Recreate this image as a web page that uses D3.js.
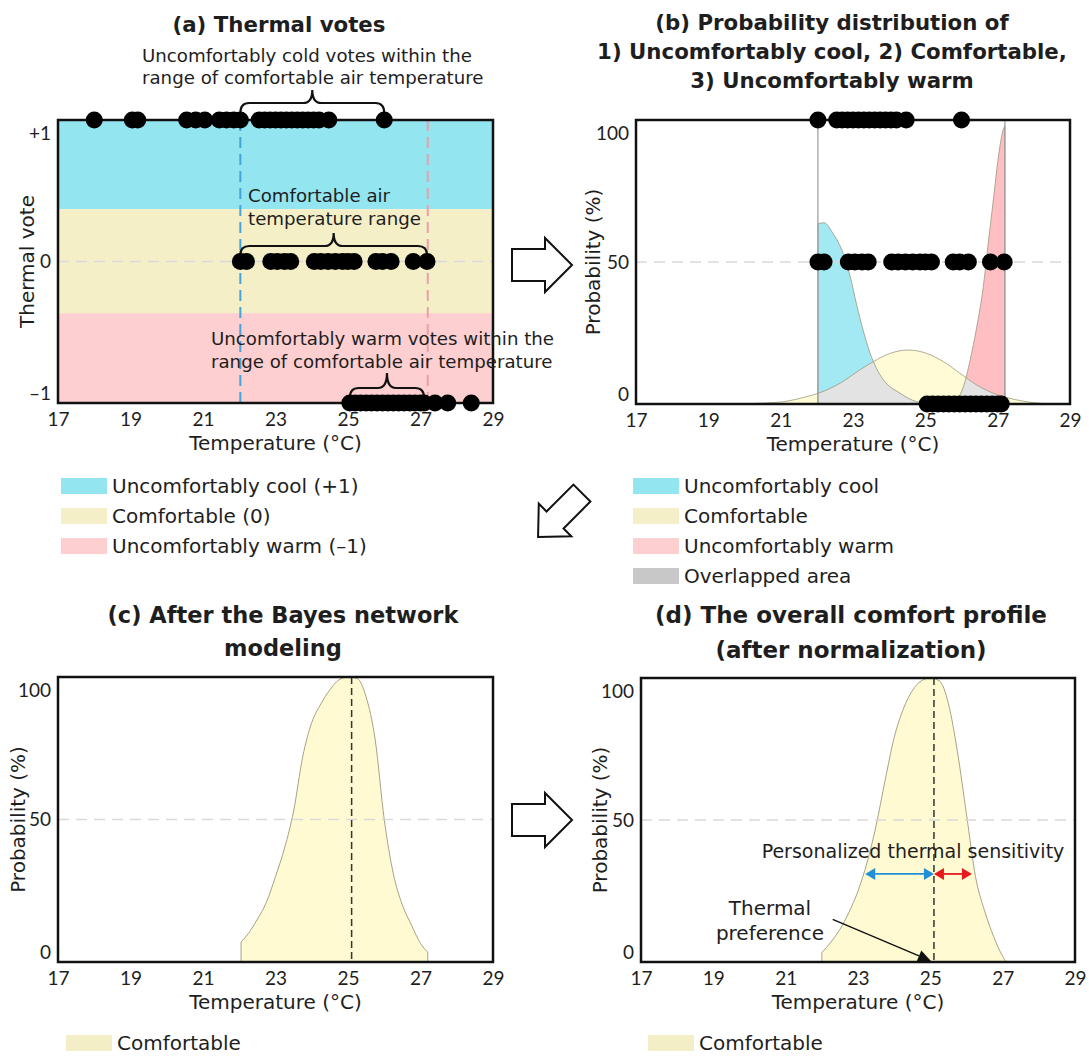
<!DOCTYPE html>
<html>
<head>
<meta charset="utf-8">
<script src="https://cdn.jsdelivr.net/npm/d3@7"></script>
<style>
  body { margin: 0; background: #fff; }
  svg text { font-family: "DejaVu Sans", Lato, sans-serif; fill: #1e1e1e; }
  svg .tick text { font-family: Lato, "DejaVu Sans", sans-serif; }
</style>
</head>
<body>
<svg id="fig" width="1089" height="1057"></svg>
<script>
// ---------------- data ----------------
const tempTicks = [17, 19, 21, 23, 25, 27, 29];
const voteTicks = [1, 0, -1];
const voteTickLabels = ["+1", "0", "\u20131"];
const probTicks = [0, 50, 100];
const probTickLabels = ["0", "50", "100"];

// thermal votes (air temperature, °C) per vote level
const coolVotes = [18.0, 19.05, 19.2, 20.55, 20.8, 21.05, 21.45, 21.65, 21.85, 22.03, 22.55, 22.7, 22.85,
                   23.0, 23.15, 23.3, 23.45, 23.6, 23.75, 23.9, 24.05, 24.2, 24.47, 26.0];
const neutralVotes = [22.03, 22.2, 22.87, 23.05, 23.25, 23.42, 24.07, 24.25, 24.45, 24.65, 24.85, 25.0,
                      25.17, 25.77, 25.95, 26.19, 26.8, 27.18];
const warmVotes = [25.05, 25.2, 25.35, 25.5, 25.65, 25.8, 25.95, 26.1, 26.25, 26.4, 26.55, 26.7, 26.85,
                   27.0, 27.1, 27.4, 27.75, 28.4];

// comfortable air temperature range (°C)
const comfortRange = [22.03, 27.2];
// thermal-vote limits separating the three sensation bands
const bandLimits = [0.37, -0.365];

// probability distributions (%)
const comfTemps = [19.7, 20.5, 21.07, 21.72, 22.09, 22.64, 23.19, 23.56, 24.02, 24.53, 25.04, 25.5, 25.96,
                   26.42, 26.88, 27.34, 27.98, 28.44];
const comfProb  = [0, 0.3, 0.8, 2.6, 4, 7.3, 12, 14.9, 17.8, 19, 17.8, 14.9, 10.8, 6.7, 3.8, 2, 0.5, 0];
const coolTemps = [22.03, 22.2, 22.45, 22.73, 22.92, 23.1, 23.28, 23.47, 23.65, 23.84, 24.3, 24.76, 25.2];
const coolProb  = [63.5, 63.8, 60, 53, 45, 35, 26, 18, 12.5, 8.5, 3.8, 0.8, 0];
const warmTemps = [25.7, 25.9, 26.05, 26.24, 26.42, 26.6, 26.74, 26.88, 27.02, 27.15, 27.2];
const warmProb  = [0, 2, 6, 15.5, 27, 41, 56.6, 71.8, 87, 96.5, 98];

// after Bayes network modelling
const bayesTemps = [22.05, 22.25, 22.5, 22.75, 23.0, 23.25, 23.5, 23.75, 24.0, 24.25, 24.5, 24.75, 25.0,
                    25.25, 25.5, 25.75, 26.0, 26.25, 26.5, 26.75, 27.0, 27.2];
const bayesProb  = [7, 10, 15, 21, 30, 40, 53, 72, 84, 90.5, 95.5, 99, 100, 99.5, 93, 78, 50, 31, 20, 13,
                    6.5, 3.5];

// overall comfort profile after normalisation
const normTemps = [22.0, 22.25, 22.5, 22.75, 23.0, 23.25, 23.5, 23.75, 24.0, 24.25, 24.5, 24.75, 25.0,
                   25.25, 25.5, 25.75, 26.0, 26.25, 26.5, 26.75, 27.0, 27.1];
const normProb  = [3.3, 7, 11.5, 17.5, 25, 35, 48, 64, 79, 89, 95.5, 99, 100, 99, 91, 74, 52, 30, 18, 9,
                   2, 0];

const preference = 25.1;
const sensitivity = [23.2, 26.15];   // cool / warm limits of personalised sensitivity
const sensitivityLevel = 31;          // probability (%) at which the sensitivity arrows sit

// ---------------- styling ----------------
const C_CYAN = "#93e5f0", C_BEIGE = "#f5efc8", C_PINK = "#fdcfd0";
const C_CYAN_B = "#a2e9f3", C_YEL_B = "#fffbd6", C_PINK_B = "#ffbec2", C_GRAY_B = "#e3e3e3";
const C_GRAY_LEG = "#c8c8c8", C_COMF = "#fffad2", C_COMF_LEG = "#f4eec6";
const OUTLINE = "#9c987e";

const svg = d3.select("#fig");
const defs = svg.append("defs");

const boxA = { x0: 58,  x1: 493,  y0: 120, y1: 403 };
const boxB = { x0: 636, x1: 1070, y0: 120, y1: 404 };
const boxC = { x0: 58,  x1: 493,  y0: 677, y1: 962 };
const boxD = { x0: 641, x1: 1075, y0: 678, y1: 962 };

function scalesFor(box, yDomain) {
  return {
    x: d3.scaleLinear().domain([17, 29]).range([box.x0, box.x1]),
    y: d3.scaleLinear().domain(yDomain).range([box.y1, box.y0])
  };
}

function axes(box, s, yTicks, yLabels, yTitle, yTitleOffset) {
  const xa = svg.append("g").attr("transform", `translate(0,${box.y1})`)
    .call(d3.axisBottom(s.x).tickValues(tempTicks).tickSize(0).tickPadding(10).tickFormat(d3.format("d")));
  xa.select(".domain").remove();
  xa.attr("font-family", null);
  xa.selectAll("text").attr("font-size", 19).attr("fill", "#1e1e1e");

  const [lo, hi] = d3.extent(yTicks);
  const ya = svg.append("g").attr("transform", `translate(${box.x0},0)`)
    .call(d3.axisLeft(s.y).tickValues(yTicks).tickSize(0).tickPadding(7)
      .tickFormat(d => yLabels[yTicks.indexOf(d)]));
  ya.select(".domain").remove();
  ya.attr("font-family", null);
  ya.selectAll("text").attr("font-size", 19).attr("fill", "#1e1e1e")
    .attr("y", d => d === hi ? 13 : d === lo ? -10 : 0);

  svg.append("text").attr("x", (box.x0 + box.x1) / 2).attr("y", box.y1 + 47)
    .attr("text-anchor", "middle").attr("font-size", 20).text("Temperature (\u00B0C)");
  svg.append("text")
    .attr("transform", `translate(${box.x0 - yTitleOffset},${(box.y0 + box.y1) / 2}) rotate(-90)`)
    .attr("text-anchor", "middle").attr("dominant-baseline", "central")
    .attr("font-size", 20).text(yTitle);
}

function frame(box) {
  svg.append("rect").attr("x", box.x0).attr("y", box.y0)
    .attr("width", box.x1 - box.x0).attr("height", box.y1 - box.y0)
    .attr("fill", "none").attr("stroke", "#111").attr("stroke-width", 2.5);
}

function hDash(box, y) {
  svg.append("line").attr("x1", box.x0).attr("x2", box.x1).attr("y1", y).attr("y2", y)
    .attr("stroke", "#d9d9d9").attr("stroke-width", 1.6).attr("stroke-dasharray", "11,7");
}

function title(lines, cx, firstBaseline, lh, size) {
  const t = svg.append("text").attr("text-anchor", "middle").attr("font-size", size)
    .attr("font-weight", 700).attr("fill", "#111");
  lines.forEach((l, i) => t.append("tspan").attr("x", cx).attr("y", firstBaseline + i * lh).text(l));
}

function legend(x, yTop, items) {
  const g = svg.append("g");
  items.forEach((it, i) => {
    const cy = yTop + i * 30;
    g.append("rect").attr("x", x).attr("y", cy - 8).attr("width", 46).attr("height", 16).attr("fill", it.color);
    g.append("text").attr("x", x + 51).attr("y", cy).attr("dominant-baseline", "central")
      .attr("font-size", 20).text(it.label);
  });
}

function blockArrow(cx, cy, angle, len, shaftHalf, headLen, headHalf) {
  const h = len / 2, b = h - headLen;
  const pts = [[-h, -shaftHalf], [b, -shaftHalf], [b, -headHalf], [h, 0], [b, headHalf], [b, shaftHalf], [-h, shaftHalf]];
  svg.append("path").attr("d", d3.line()(pts) + "Z")
    .attr("transform", `translate(${cx},${cy}) rotate(${angle})`)
    .attr("fill", "#fff").attr("stroke", "#111").attr("stroke-width", 2).attr("stroke-linejoin", "miter");
}

function brace(x0, x1, yEnd, depth, tip) {
  const yMid = yEnd - depth, yTip = yMid - tip, xm = (x0 + x1) / 2, r = 9;
  const d = `M${x0},${yEnd} Q${x0},${yMid} ${x0 + r},${yMid} L${xm - r},${yMid} Q${xm},${yMid} ${xm},${yTip}` +
            ` Q${xm},${yMid} ${xm + r},${yMid} L${x1 - r},${yMid} Q${x1},${yMid} ${x1},${yEnd}`;
  svg.append("path").attr("d", d).attr("fill", "none").attr("stroke", "#111").attr("stroke-width", 2.2);
}

function dots(s, temps, yVal) {
  svg.append("g").selectAll("circle").data(temps).join("circle")
    .attr("cx", d => s.x(d)).attr("cy", s.y(yVal)).attr("r", 8.5).attr("fill", "#000");
}

const zip = (xs, ys) => xs.map((t, i) => ({ t, p: ys[i] }));

// ---------------- (a) thermal votes ----------------
const sA = scalesFor(boxA, [-1, 1]);
const bands = [
  { from: 1, to: bandLimits[0], color: C_CYAN },
  { from: bandLimits[0], to: bandLimits[1], color: C_BEIGE },
  { from: bandLimits[1], to: -1, color: C_PINK }
];
svg.append("g").selectAll("rect").data(bands).join("rect")
  .attr("x", boxA.x0).attr("width", boxA.x1 - boxA.x0)
  .attr("y", d => sA.y(d.from)).attr("height", d => sA.y(d.to) - sA.y(d.from))
  .attr("fill", d => d.color);
hDash(boxA, sA.y(0));
[[comfortRange[0], "#45a3dc"], [comfortRange[1], "#eaa0a8"]].forEach(([t, c]) => {
  svg.append("line").attr("x1", sA.x(t)).attr("x2", sA.x(t)).attr("y1", boxA.y0).attr("y2", boxA.y1)
    .attr("stroke", c).attr("stroke-width", 2).attr("stroke-dasharray", "11,6");
});
frame(boxA);
axes(boxA, sA, voteTicks, voteTickLabels, "Thermal vote", 31);
title(["(a) Thermal votes"], 279, 32, 28, 21.3);

const inRange = t => t >= comfortRange[0] && t <= comfortRange[1];
// annotations
function note(lines, x, y0, lh) {
  const t = svg.append("text").attr("font-size", 18.2);
  lines.forEach((l, i) => t.append("tspan").attr("x", x).attr("y", y0 + i * lh).text(l));
}
note(["Uncomfortably cold votes within the", "range of comfortable air temperature"], 142, 62, 22);
note(["Comfortable air", "temperature range"], 248, 202, 23);
note(["Uncomfortably warm votes within the", "range of comfortable air temperature"], 211, 345, 23);

const coolIn = coolVotes.filter(inRange), warmIn = warmVotes.filter(inRange);
brace(sA.x(d3.min(coolIn)), sA.x(d3.max(coolIn)), 113, 10, 13);
brace(sA.x(d3.min(neutralVotes)), sA.x(d3.max(neutralVotes)), 255, 9, 13);
brace(sA.x(d3.min(warmIn)), sA.x(d3.max(warmIn)), 398, 10, 15);

dots(sA, coolVotes, 1);
dots(sA, neutralVotes, 0);
dots(sA, warmVotes, -1);

legend(61, 486, [
  { color: C_CYAN, label: "Uncomfortably cool (+1)" },
  { color: C_BEIGE, label: "Comfortable (0)" },
  { color: C_PINK, label: "Uncomfortably warm (\u20131)" }
]);

// ---------------- (b) probability distributions ----------------
const sB = scalesFor(boxB, [0, 100]);
const areaB = d3.area().x(d => sB.x(d.t)).y0(sB.y(0)).y1(d => sB.y(d.p)).curve(d3.curveMonotoneX);
const comfData = zip(comfTemps, comfProb), coolData = zip(coolTemps, coolProb), warmData = zip(warmTemps, warmProb);

svg.append("path").attr("d", areaB(comfData)).attr("fill", C_YEL_B);
svg.append("path").attr("d", areaB(coolData)).attr("fill", C_CYAN_B);
svg.append("path").attr("d", areaB(warmData)).attr("fill", C_PINK_B);
defs.append("clipPath").attr("id", "comfClip").append("path").attr("d", areaB(comfData));
svg.append("g").attr("clip-path", "url(#comfClip)").selectAll("path").data([coolData, warmData]).join("path")
  .attr("d", d => areaB(d)).attr("fill", C_GRAY_B);
svg.append("g").selectAll("path").data([comfData, coolData, warmData]).join("path")
  .attr("d", d => areaB(d)).attr("fill", "none").attr("stroke", OUTLINE).attr("stroke-width", 0.8);
hDash(boxB, sB.y(50));
comfortRange.forEach(t => {
  svg.append("line").attr("x1", sB.x(t)).attr("x2", sB.x(t)).attr("y1", boxB.y0).attr("y2", boxB.y1)
    .attr("stroke", "#9a9a9a").attr("stroke-width", 1.2);
});
frame(boxB);
axes(boxB, sB, probTicks, probTickLabels, "Probability (%)", 43);
title(["(b) Probability distribution of", "1) Uncomfortably cool, 2) Comfortable,", "3) Uncomfortably warm"], 832, 30, 29, 21.3);

dots(sB, coolVotes.filter(inRange), 100);
dots(sB, neutralVotes.filter(inRange), 50);
dots(sB, warmVotes.filter(inRange), 0);

legend(633, 486, [
  { color: C_CYAN, label: "Uncomfortably cool" },
  { color: C_BEIGE, label: "Comfortable" },
  { color: C_PINK, label: "Uncomfortably warm" },
  { color: C_GRAY_LEG, label: "Overlapped area" }
]);

// ---------------- (c) after Bayes network ----------------
const sC = scalesFor(boxC, [0, 100]);
const areaC = d3.area().x(d => sC.x(d.t)).y0(sC.y(0)).y1(d => sC.y(d.p)).curve(d3.curveMonotoneX);
svg.append("path").attr("d", areaC(zip(bayesTemps, bayesProb)))
  .attr("fill", C_COMF).attr("stroke", OUTLINE).attr("stroke-width", 0.9);
hDash(boxC, sC.y(50));
svg.append("line").attr("x1", sC.x(preference)).attr("x2", sC.x(preference))
  .attr("y1", boxC.y0).attr("y2", boxC.y1).attr("stroke", "#333").attr("stroke-width", 1.5)
  .attr("stroke-dasharray", "7,4");
frame(boxC);
axes(boxC, sC, probTicks, probTickLabels, "Probability (%)", 40);
title(["(c) After the Bayes network", "modeling"], 283, 623, 33, 22.5);
legend(66, 1043, [{ color: C_COMF_LEG, label: "Comfortable" }]);

// ---------------- (d) overall comfort profile ----------------
const sD = scalesFor(boxD, [0, 100]);
const areaD = d3.area().x(d => sD.x(d.t)).y0(sD.y(0)).y1(d => sD.y(d.p)).curve(d3.curveMonotoneX);
svg.append("path").attr("d", areaD(zip(normTemps, normProb)))
  .attr("fill", C_COMF).attr("stroke", OUTLINE).attr("stroke-width", 0.9);
hDash(boxD, sD.y(50));
svg.append("line").attr("x1", sD.x(preference)).attr("x2", sD.x(preference))
  .attr("y1", boxD.y0).attr("y2", boxD.y1).attr("stroke", "#333").attr("stroke-width", 1.5)
  .attr("stroke-dasharray", "7,4");
frame(boxD);
axes(boxD, sD, probTicks, probTickLabels, "Probability (%)", 41);
title(["(d) The overall comfort profile", "(after normalization)"], 851, 623, 35, 23);
legend(648, 1043, [{ color: C_COMF_LEG, label: "Comfortable" }]);

// double-headed sensitivity arrows
function doubleArrow(xa, xb, y, color) {
  const hl = 10, hw = 6;
  svg.append("line").attr("x1", xa + hl).attr("x2", xb - hl).attr("y1", y).attr("y2", y)
    .attr("stroke", color).attr("stroke-width", 1.8);
  svg.append("path").attr("d", `M${xa},${y} L${xa + hl},${y - hw} L${xa + hl},${y + hw} Z`).attr("fill", color);
  svg.append("path").attr("d", `M${xb},${y} L${xb - hl},${y - hw} L${xb - hl},${y + hw} Z`).attr("fill", color);
}
const ySens = sD.y(sensitivityLevel);
doubleArrow(sD.x(sensitivity[0]), sD.x(preference), ySens, "#1f8fd6");
doubleArrow(sD.x(preference), sD.x(sensitivity[1]), ySens, "#e8191d");
svg.append("text").attr("x", 913).attr("y", 858).attr("text-anchor", "middle").attr("font-size", 19)
  .text("Personalized thermal sensitivity");

const prefText = svg.append("text").attr("text-anchor", "middle").attr("font-size", 20);
prefText.append("tspan").attr("x", 770).attr("y", 915).text("Thermal");
prefText.append("tspan").attr("x", 770).attr("y", 940).text("preference");
// pointer to the preferred temperature
const p0 = [sD.x(22.3), sD.y(15)], p1 = [sD.x(preference) - 3, sD.y(0) - 1];
const ang = Math.atan2(p1[1] - p0[1], p1[0] - p0[0]);
const hl = 13, hw = 6;
const base = [p1[0] - hl * Math.cos(ang), p1[1] - hl * Math.sin(ang)];
svg.append("line").attr("x1", p0[0]).attr("y1", p0[1]).attr("x2", base[0]).attr("y2", base[1])
  .attr("stroke", "#111").attr("stroke-width", 1.4);
svg.append("path").attr("d",
  `M${p1[0]},${p1[1]} L${base[0] - hw * Math.sin(ang)},${base[1] + hw * Math.cos(ang)} ` +
  `L${base[0] + hw * Math.sin(ang)},${base[1] - hw * Math.cos(ang)} Z`).attr("fill", "#111");

// ---------------- flow arrows between panels ----------------
blockArrow(542, 265, 0, 60, 16, 27, 27);
blockArrow(542, 820, 0, 60, 16, 27, 27);
blockArrow(560, 515, 135, 62, 12, 24, 23);
</script>
</body>
</html>
